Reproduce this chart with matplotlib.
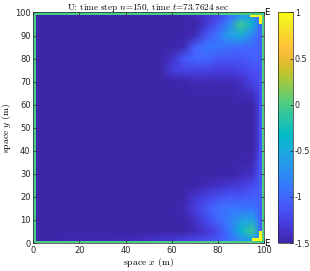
import numpy as np
import matplotlib
matplotlib.use('Agg')
import matplotlib.pyplot as plt
from matplotlib.colors import LinearSegmentedColormap

# field samples (interior of the domain)
x_nodes = [1, 45, 50, 55, 60, 65, 70, 75, 80, 85, 90, 95, 97.8, 98.3, 99]
y_nodes = [1, 2, 5, 10, 15, 20, 25, 30, 35, 40, 60, 65, 70, 75, 80, 85, 90, 95, 98, 99]
u_rows = [
    [-1.5, -1.45, -1.4, -1.38, -1.35, -1.3, -1.25, -1.2, -1.1, -0.95, -0.7, -0.5, -0.8, -1.0, -1.0],
    [-1.5, -1.45, -1.4, -1.38, -1.35, -1.3, -1.25, -1.2, -1.1, -0.95, -0.7, -0.5, -0.8, -1.0, -1.0],
    [-1.5, -1.5, -1.5, -1.5, -1.5, -1.5, -1.45, -1.35, -1.2, -0.9, -0.4, -0.05, -0.7, -1.0, -1.0],
    [-1.5, -1.5, -1.5, -1.5, -1.5, -1.5, -1.4, -1.2, -1.0, -0.85, -0.6, -0.55, -0.9, -1.05, -1.05],
    [-1.5, -1.5, -1.5, -1.5, -1.5, -1.45, -1.3, -1.1, -0.95, -0.9, -0.9, -0.9, -1.0, -1.05, -1.05],
    [-1.5, -1.5, -1.5, -1.5, -1.5, -1.5, -1.35, -1.25, -1.15, -1.1, -1.1, -1.05, -1.05, -1.05, -1.05],
    [-1.5, -1.5, -1.5, -1.5, -1.5, -1.5, -1.5, -1.45, -1.4, -1.35, -1.3, -1.2, -1.1, -1.05, -1.05],
    [-1.5, -1.5, -1.5, -1.5, -1.5, -1.5, -1.5, -1.5, -1.5, -1.5, -1.45, -1.4, -1.15, -1.1, -1.1],
    [-1.5, -1.5, -1.5, -1.5, -1.5, -1.5, -1.5, -1.5, -1.5, -1.5, -1.5, -1.45, -1.2, -1.1, -1.1],
    [-1.5, -1.5, -1.5, -1.5, -1.5, -1.5, -1.5, -1.5, -1.5, -1.5, -1.5, -1.5, -1.3, -1.1, -1.1],
    [-1.5, -1.5, -1.5, -1.5, -1.5, -1.5, -1.5, -1.5, -1.5, -1.5, -1.5, -1.5, -1.3, -1.1, -1.1],
    [-1.5, -1.5, -1.5, -1.5, -1.5, -1.5, -1.5, -1.5, -1.5, -1.5, -1.45, -1.4, -1.25, -1.1, -1.1],
    [-1.5, -1.5, -1.5, -1.5, -1.5, -1.5, -1.45, -1.45, -1.45, -1.45, -1.4, -1.25, -1.2, -1.1, -1.1],
    [-1.5, -1.5, -1.5, -1.5, -1.3, -1.25, -1.25, -1.25, -1.3, -1.3, -1.25, -1.15, -1.15, -1.1, -1.1],
    [-1.5, -1.5, -1.5, -1.5, -1.4, -1.1, -1.0, -1.0, -1.1, -1.1, -1.1, -1.05, -1.05, -1.05, -1.05],
    [-1.5, -1.5, -1.5, -1.5, -1.5, -1.45, -1.05, -0.9, -0.9, -0.95, -1.0, -1.0, -1.05, -1.05, -1.05],
    [-1.5, -1.5, -1.5, -1.5, -1.5, -1.5, -1.45, -1.1, -0.9, -0.6, -0.5, -0.8, -1.0, -1.0, -1.0],
    [-1.5, -1.5, -1.5, -1.5, -1.5, -1.5, -1.5, -1.35, -1.1, -0.75, -0.05, -0.4, -0.9, -1.0, -1.0],
    [-1.5, -1.5, -1.5, -1.5, -1.5, -1.5, -1.45, -1.35, -1.2, -0.95, -0.6, -0.6, -0.9, -1.0, -1.0],
    [-1.5, -1.5, -1.5, -1.5, -1.5, -1.5, -1.45, -1.35, -1.2, -0.95, -0.6, -0.6, -0.9, -1.0, -1.0],
]
boundary_value = 0.0
corner_value = 1.0
x_ticks = [0, 20, 40, 60, 80, 100]
y_ticks = [0, 10, 20, 30, 40, 50, 60, 70, 80, 90, 100]
c_ticks = [-1.5, -1, -0.5, 0, 0.5, 1]
c_labels = ['-1.5', '-1', '-0.5', '0', '0.5', '1']

parula = LinearSegmentedColormap.from_list('parula', [
    (0.2422, 0.1504, 0.6603), (0.2647, 0.1978, 0.7952), (0.2783, 0.2559, 0.8991),
    (0.2810, 0.3228, 0.9579), (0.2699, 0.3892, 0.9906), (0.2206, 0.4603, 0.9973),
    (0.1786, 0.5289, 0.9682), (0.1540, 0.5902, 0.9218), (0.1248, 0.6459, 0.8883),
    (0.0689, 0.6948, 0.8394), (0.0067, 0.7312, 0.7660), (0.1408, 0.7584, 0.6842),
    (0.2161, 0.7843, 0.5923), (0.3406, 0.8008, 0.4789), (0.5044, 0.7993, 0.3480),
    (0.6720, 0.7793, 0.2227), (0.8203, 0.7498, 0.1535), (0.9393, 0.7288, 0.2100),
    (0.9970, 0.7659, 0.2199), (0.9786, 0.8386, 0.1766), (0.9597, 0.9135, 0.1423),
    (0.9769, 0.9839, 0.0805)], N=256)

plt.rcParams['mathtext.fontset'] = 'cm'
serif = {'family': 'cmr10'}

fig = plt.figure(figsize=(3.1, 2.71), dpi=100)
ax = fig.add_axes([0.1074, 0.1033, 0.7442, 0.8506])
cax = fig.add_axes([0.8958, 0.1033, 0.0484, 0.8506])

mesh = ax.pcolormesh(x_nodes, y_nodes, np.array(u_rows), shading='gouraud',
                     cmap=parula, vmin=-1.5, vmax=1)

# boundary ring and the corner cells, one unit wide
frame = np.full((100, 100), np.nan)
frame[0, :] = boundary_value
frame[-1, :] = boundary_value
frame[:, 0] = boundary_value
frame[:, -1] = boundary_value
frame[98, 94:99] = corner_value
frame[95:99, 98] = corner_value
frame[1, 95:99] = corner_value
frame[1:5, 98] = corner_value
ax.pcolormesh(np.arange(101), np.arange(101), np.ma.masked_invalid(frame),
              cmap=parula, vmin=-1.5, vmax=1)

ax.text(100, 100, 'E', fontsize=6.5, ha='left', va='center', clip_on=False)
ax.text(100, 0, 'E', fontsize=6.5, ha='left', va='center', clip_on=False)

ax.set_xlim(0, 100)
ax.set_ylim(0, 100)
ax.set_xticks(x_ticks)
ax.set_yticks(y_ticks)
ax.tick_params(direction='in', top=True, right=True, length=2.5, width=0.5,
               labelsize=6, pad=2, colors='0.15')
for s in ax.spines.values():
    s.set_linewidth(0.5)
    s.set_color('0.15')

ax.set_title(r'U: time step $n$=150, time $t$=73.7624 sec', fontdict=serif,
             fontsize=6.6, pad=2)
ax.set_xlabel(r'space $x$ (m)', fontdict=serif, fontsize=7, labelpad=1)
ax.set_ylabel(r'space $y$ (m)', fontdict=serif, fontsize=7, labelpad=1.5)

cb = fig.colorbar(mesh, cax=cax)
cb.set_ticks(c_ticks)
cb.set_ticklabels(c_labels)
cax.tick_params(direction='in', length=2, width=0.5, labelsize=5.8, pad=1.5, colors='0.15')
cb.outline.set_linewidth(0.5)
cb.outline.set_edgecolor('0.15')

fig.savefig('out.png', dpi=100)
